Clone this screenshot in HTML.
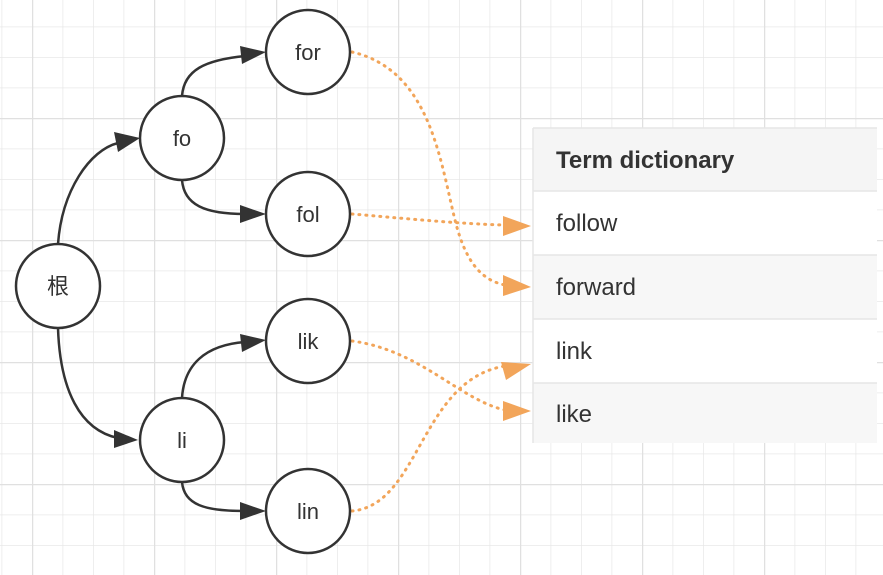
<!DOCTYPE html>
<html><head><meta charset="utf-8"><style>
html,body{margin:0;padding:0;width:883px;height:575px;overflow:hidden;background:#fff}
</style></head><body>
<svg width="883" height="575" xmlns="http://www.w3.org/2000/svg" style="position:absolute;left:0;top:0">
<defs>
<pattern id="minor" width="30.5" height="30.5" patternUnits="userSpaceOnUse" x="1.5" y="-4">
<path d="M0 0H30.5M0 0V30.5" stroke="#e8e8e8" stroke-width="1.5" fill="none"/>
</pattern>
<pattern id="major" width="122" height="122" patternUnits="userSpaceOnUse" x="32" y="118">
<path d="M0 0H122M0 0V122" stroke="#e0e0e0" stroke-width="2.5" fill="none"/>
</pattern>
</defs>
<rect width="883" height="575" fill="url(#minor)"/>
<rect width="883" height="575" fill="url(#major)"/>

<g stroke="#333" stroke-width="2.5" fill="none">
<path d="M58 244 C62 190 90 150 118 143"/>
<path d="M182 96 C184 70 205 60 245 56"/>
<path d="M182 180 C184 205 205 214 245 214"/>
<path d="M58 328 C60 390 80 430 118 438"/>
<path d="M182 398 C184 365 205 345 245 342"/>
<path d="M182 482 C184 505 205 511 245 511"/>
</g>
<g fill="#333">
<polygon points="140,138 114,132 118,152"/>
<polygon points="266,52 240,46 242,64"/>
<polygon points="266,214 240,205 240,223"/>
<polygon points="138,440 114,430 114,448"/>
<polygon points="266,340 240,334 242,352"/>
<polygon points="266,511 240,502 240,520"/>
</g>

<g stroke="#f2a55a" stroke-width="3" fill="none" stroke-dasharray="1 6" stroke-linecap="round">
<path d="M352 52 C430 70 440 160 455 220 C465 260 480 280 505 285"/>
<path d="M352 214 C400 218 460 224 505 225"/>
<path d="M352 341 C420 350 460 400 505 410"/>
<path d="M352 511 C420 505 420 380 505 366"/>
</g>
<g fill="#f2a55a">
<polygon points="531,226 503,216 503,236"/>
<polygon points="531,287 503,275 503,296"/>
<polygon points="531,411 503,401 503,421"/>
<polygon points="531,364 501,362 506,380"/>
</g>

<g stroke="#333" stroke-width="2.5" fill="#fff">
<circle cx="58" cy="286" r="42"/>
<circle cx="182" cy="138" r="42"/>
<circle cx="308" cy="52" r="42"/>
<circle cx="308" cy="214" r="42"/>
<circle cx="308" cy="341" r="42"/>
<circle cx="182" cy="440" r="42"/>
<circle cx="308" cy="511" r="42"/>
</g>
<g font-family="Liberation Sans, Noto Sans CJK SC, sans-serif" font-size="22" fill="#333" text-anchor="middle">
<text x="58" y="294">根</text>
<text x="182" y="146">fo</text>
<text x="308" y="60">for</text>
<text x="308" y="222">fol</text>
<text x="308" y="349">lik</text>
<text x="182" y="448">li</text>
<text x="308" y="519">lin</text>
</g>

<rect x="533" y="128" width="344" height="63" fill="#f5f5f5"/>
<rect x="533" y="191" width="344" height="64" fill="#fff"/>
<rect x="533" y="255" width="344" height="64" fill="#f7f7f7"/>
<rect x="533" y="319" width="344" height="64" fill="#fff"/>
<rect x="533" y="383" width="344" height="60" fill="#f7f7f7"/>
<g stroke="#e6e6e6" stroke-width="1.5">
<line x1="533" y1="128" x2="877" y2="128"/>
<line x1="533" y1="191" x2="877" y2="191"/>
<line x1="533" y1="255" x2="877" y2="255"/>
<line x1="533" y1="319" x2="877" y2="319"/>
<line x1="533" y1="383" x2="877" y2="383"/>
<line x1="533" y1="128" x2="533" y2="443"/>
</g>
<g font-family="Liberation Sans, sans-serif" font-size="24" fill="#333">
<text x="556" y="168" font-weight="bold">Term dictionary</text>
<text x="556" y="231">follow</text>
<text x="556" y="295">forward</text>
<text x="556" y="359">link</text>
<text x="556" y="422">like</text>
</g>
</svg>
</body></html>
